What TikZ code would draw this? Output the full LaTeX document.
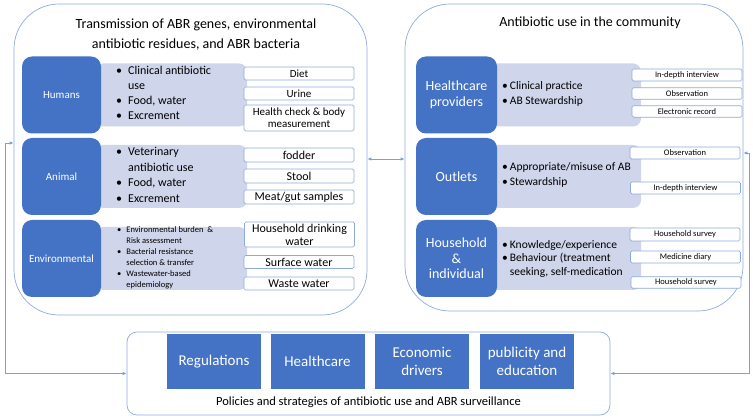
\documentclass[tikz,border=0pt]{standalone}
\usepackage{fontspec}
\setmainfont{Carlito}
\usetikzlibrary{arrows.meta}
\definecolor{dkblue}{HTML}{4472C4}
\definecolor{ltlav}{HTML}{CFD5EA}
\definecolor{edgec}{HTML}{8FAADC}
\definecolor{arrc}{HTML}{7F9FD6}
\newcommand{\fs}[2]{\fontsize{#1}{#2}\selectfont}
\begin{document}
\begin{tikzpicture}[x=1pt,y=-1pt,
  panel/.style={draw=edgec, line width=0.7pt, rounded corners=45pt, inner sep=0pt},
  dark/.style={fill=dkblue, rounded corners=10pt, text=white, align=center, inner sep=0pt, minimum height=77pt},
  light/.style={fill=ltlav, rounded corners=8pt, inner sep=0pt, minimum height=63pt},
  sbox/.style={draw=edgec, fill=white, rounded corners=1.5pt, line width=0.7pt, align=center, inner sep=0pt, minimum width=110pt},
  blist/.style={anchor=west, align=left, inner sep=0pt},
  sq/.style={fill=dkblue, text=white, align=center, minimum width=94pt, minimum height=55pt, inner sep=0pt, font=\fs{15}{18}},
  arr/.style={draw=arrc, line width=0.8pt, {Latex[length=4pt,width=3.5pt]}-{Latex[length=4pt,width=3.5pt]}}
]
\useasboundingbox (0,0) rectangle (753,419);

% ---------- panels ----------
\node[panel, minimum width=353pt, minimum height=311pt] (lp) at (190.5,159.5) {};
\node[panel, minimum width=338pt, minimum height=307pt] (rp) at (574,157.5) {};
\node[draw=edgec, line width=0.7pt, rounded corners=10pt, minimum width=483pt, minimum height=83pt, inner sep=0pt] (bot) at (368.5,373.5) {};

% titles
\node[align=center, font=\fs{14}{20}] (lt) at (196,35) {Transmission of ABR genes, environmental\\antibiotic residues, and ABR bacteria};
\node[font=\fs{14}{20}] (rt) at (590,23) {Antibiotic use in the community};

% ---------- left panel rows ----------
\node[light, minimum width=152pt] (hl) at (171,95) {};
\node[light, minimum width=152pt] (al) at (171,176.5) {};
\node[light, minimum width=152pt] (el) at (171,258.5) {};

\node[dark, minimum width=79pt, font=\fs{11}{13}] (hum) at (61.5,95) {Humans};
\node[dark, minimum width=79pt, font=\fs{11}{13}] (ani) at (61.5,176.5) {Animal};
\node[dark, minimum width=79pt, font=\fs{11}{13}] (env) at (61.5,258.5) {Environmental};

\node[blist, font=\fs{12}{15}] (hb) at (116,94) {\begin{tabular}{@{}l@{\hspace{6pt}}l@{}}\textbullet & Clinical antibiotic\\ & use\\ \textbullet & Food, water\\ \textbullet & Excrement\end{tabular}};
\node[blist, font=\fs{12}{15.5}] (ab) at (116,176) {\begin{tabular}{@{}l@{\hspace{6pt}}l@{}}\textbullet & Veterinary\\ & antibiotic use\\ \textbullet & Food, water\\ \textbullet & Excrement\end{tabular}};
\node[blist, font=\fs{8.5}{11}] (eb) at (117,258) {\begin{tabular}{@{}l@{\hspace{5pt}}l@{}}\textbullet & Environmental burden ~\&\\ & Risk assessment\\ \textbullet & Bacterial resistance\\ & selection \& transfer\\ \textbullet & Wastewater-based\\ & epidemiology\end{tabular}};

\node[sbox, minimum height=13pt, font=\fs{11}{12}] (diet) at (299,73.5) {Diet};
\node[sbox, minimum height=13pt, font=\fs{11}{12}] (urine) at (299,93.5) {Urine};
\node[sbox, minimum height=26pt, font=\fs{11}{12}] (hc) at (299,118) {Health check \& body\\measurement};
\node[sbox, minimum height=14pt, font=\fs{12}{13}] (fod) at (299,155) {fodder};
\node[sbox, minimum height=14pt, font=\fs{12}{13}] (stool) at (299,176) {Stool};
\node[sbox, minimum height=14pt, font=\fs{12}{13}] (meat) at (299,197) {Meat/gut samples};
\node[sbox, minimum height=25pt, font=\fs{12}{13}] (hdw) at (299.5,234.5) {Household drinking\\water};
\node[sbox, minimum height=13pt, font=\fs{12}{13}] (sw) at (299,262) {Surface water};
\node[sbox, minimum height=13pt, font=\fs{12}{13}] (ww) at (299,283.5) {Waste water};

% ---------- right panel rows ----------
\node[light, minimum width=151pt] (hpl) at (565.5,95) {};
\node[light, minimum width=151pt] (ol) at (565.5,176.5) {};
\node[light, minimum width=151pt] (hhl) at (565.5,258.5) {};

\node[dark, minimum width=81pt, font=\fs{14}{16}] (hp) at (456.5,95) {Healthcare\\providers};
\node[dark, minimum width=81pt, font=\fs{14}{16}] (out) at (456.5,176.5) {Outlets};
\node[dark, minimum width=81pt, font=\fs{14}{15.5}] (hh) at (456.5,258.5) {Household\\\&\\individual};

\node[blist, font=\fs{11.5}{15}] (hpb) at (502,94.5) {\begin{tabular}{@{}l@{\hspace{2pt}}l@{}}\textbullet & Clinical practice\\ \textbullet & AB Stewardship\end{tabular}};
\node[blist, font=\fs{11.5}{15}] (ob) at (502,175.5) {\begin{tabular}{@{}l@{\hspace{2pt}}l@{}}\textbullet & Appropriate/misuse of AB\\ \textbullet & Stewardship\end{tabular}};
\node[blist, font=\fs{11.5}{13.5}] (hhb) at (502,259) {\begin{tabular}{@{}l@{\hspace{2pt}}l@{}}\textbullet & Knowledge/experience\\ \textbullet & Behaviour (treatment\\ & seeking, self-medication\end{tabular}};

\node[sbox, minimum height=12pt, font=\fs{8.5}{10}] (r1) at (687,75) {In-depth interview};
\node[sbox, minimum height=11.5pt, font=\fs{8.5}{10}] (r2) at (687,93.5) {Observation};
\node[sbox, minimum height=11.5pt, font=\fs{8.5}{10}] (r3) at (687,111.5) {Electronic record};
\node[sbox, minimum height=12pt, font=\fs{8.5}{10}] (r4) at (685,153) {Observation};
\node[sbox, minimum height=12pt, font=\fs{8.5}{10}] (r5) at (685.5,188) {In-depth interview};
\node[sbox, minimum height=13pt, font=\fs{8.5}{10}] (r6) at (685,234.5) {Household survey};
\node[sbox, minimum height=12pt, font=\fs{8.5}{10}] (r7) at (685.5,257) {Medicine diary};
\node[sbox, minimum height=11.5pt, font=\fs{8.5}{10}] (r8) at (686,282.5) {Household survey};

% ---------- bottom box ----------
\node[sq] (reg) at (214,361.5) {Regulations};
\node[sq] (hcare) at (317.5,361.5) {Healthcare};
\node[sq] (eco) at (422,361.5) {Economic\\drivers};
\node[sq] (pub) at (527,361.5) {publicity and\\education};
\node[font=\fs{12.5}{14}] (pol) at (368.5,402) {Policies and strategies of antibiotic use and ABR surveillance};

% ---------- connectors ----------
\coordinate (mid) at (386,159);
\coordinate (lx) at (5,143);
\coordinate (rx) at (749,153);
\draw[arr] (lp.east |- mid) -- (rp.west |- mid);
\draw[arr] (lp.west |- lx) -- (lx) |- (bot.west);
\draw[arr] (rp.east |- rx) -- (rx) |- (bot.east);
\end{tikzpicture}
\end{document}
